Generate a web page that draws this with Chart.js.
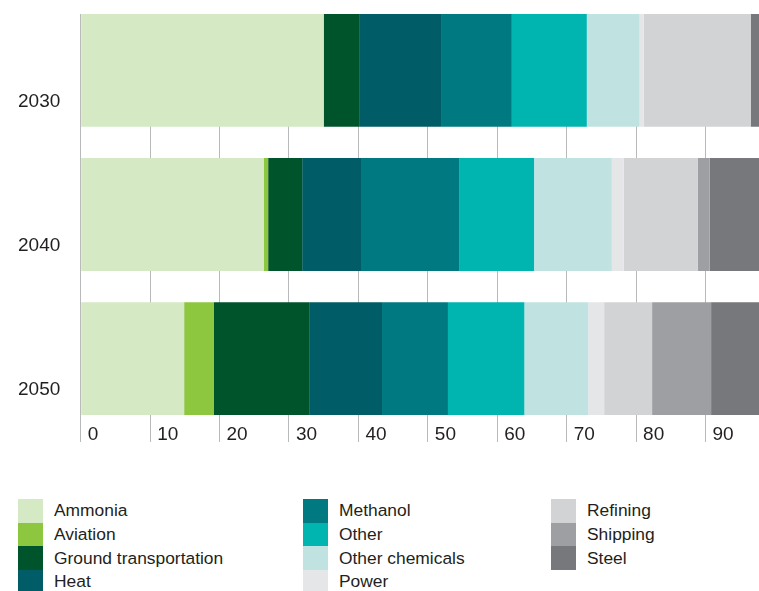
<!DOCTYPE html>
<html>
<head>
<meta charset="utf-8">
<script src="https://cdn.jsdelivr.net/npm/chart.js@4/dist/chart.umd.min.js"></script>
<style>
  body { margin: 0; background: #fff; }
  #wrap { position: relative; width: 759px; height: 591px; overflow: hidden; font-family: "Liberation Sans", Arial, sans-serif; color: #231f20; }
  #chart { position: absolute; left: 0; top: 0; }
  .col { position: absolute; top: 499px; }
  .item { display: flex; align-items: center; height: 23.7px; font-size: 17.4px; white-space: nowrap; }
  .sw { width: 25px; height: 100%; margin-right: 11px; flex: none; }
</style>
</head>
<body>
<div id="wrap">
  <canvas id="chart" width="759" height="460"></canvas>
  <div id="legend"></div>
</div>
<script>
const years = [2030, 2040, 2050];
const xTicks = [0, 10, 20, 30, 40, 50, 60, 70, 80, 90];

const ammonia         = [35.0, 26.4, 14.9];
const aviation        = [0.0, 0.6, 4.3];
const groundTransport = [5.1, 4.9, 13.8];
const heat            = [11.8, 8.6, 10.4];
const methanol        = [10.2, 14.0, 9.5];
const other           = [10.8, 10.8, 11.0];
const otherChemicals  = [7.6, 11.2, 9.2];
const power           = [0.6, 1.7, 2.3];
const refining        = [15.4, 10.7, 6.9];
const shipping        = [0.0, 1.7, 8.5];
const steel           = [1.2, 7.3, 7.2];

const fontFamily = '"Liberation Sans", Arial, sans-serif';
const textColor = '#231f20';

function series(label, data, color) {
    return {
        label: label,
        data: data,
        backgroundColor: color,
        borderWidth: 0,
        barPercentage: 0.784,
        categoryPercentage: 1,
    };
}

const chart = new Chart(document.getElementById('chart').getContext('2d'), {
    type: 'bar',
    data: {
        labels: years,
        datasets: [
            series('Ammonia', ammonia, '#d5eac4'),
            series('Aviation', aviation, '#8dc63f'),
            series('Ground transportation', groundTransport, '#00542b'),
            series('Heat', heat, '#005c66'),
            series('Methanol', methanol, '#007a80'),
            series('Other', other, '#00b5b0'),
            series('Other chemicals', otherChemicals, '#c0e3e1'),
            series('Power', power, '#e5e6e8'),
            series('Refining', refining, '#d1d3d4'),
            series('Shipping', shipping, '#9d9fa2'),
            series('Steel', steel, '#77787b'),
        ],
    },
    options: {
        indexAxis: 'y',
        responsive: false,
        animation: false,
        layout: {
            padding: { top: 14, left: 18, right: 0, bottom: 0 },
        },
        plugins: {
            legend: { display: false },
            tooltip: { enabled: false },
        },
        scales: {
            x: {
                type: 'linear',
                stacked: true,
                min: 0,
                max: 97.7,
                afterBuildTicks: (scale) => {
                    scale.ticks = xTicks.map((v) => ({ value: v }));
                },
                afterFit: (scale) => {
                    scale.height = 45;
                },
                border: { display: false },
                grid: {
                    color: '#b8b9bb',
                    lineWidth: 1,
                    tickLength: 27,
                },
                ticks: {
                    align: 'start',
                    labelOffset: 7,
                    padding: -18.5,
                    maxRotation: 0,
                    autoSkip: false,
                    color: textColor,
                    font: { family: fontFamily, size: 19 },
                },
            },
            y: {
                type: 'linear',
                stacked: true,
                reverse: true,
                offset: false,
                min: 2026.09,
                max: 2053.91,
                afterBuildTicks: (scale) => {
                    scale.ticks = years.map((v) => ({ value: v }));
                },
                afterFit: (scale) => {
                    scale.width = 62.7;
                },
                border: { display: false },
                grid: { display: false, drawTicks: false, offset: false },
                ticks: {
                    crossAlign: 'far',
                    labelOffset: 31,
                    padding: 0,
                    color: textColor,
                    font: { family: fontFamily, size: 19 },
                    callback: (v) => String(v),
                },
            },
        },
    },
});

// legend in three columns, filled top to bottom
const legendColumns = [[0, 1, 2, 3], [4, 5, 6, 7], [8, 9, 10]];
const legendX = [18, 303, 551];
const legend = document.getElementById('legend');

legendColumns.forEach((idxs, c) => {
    const col = document.createElement('div');
    col.className = 'col';
    col.style.left = legendX[c] + 'px';
    idxs.forEach((i) => {
        const ds = chart.data.datasets[i];
        const item = document.createElement('div');
        item.className = 'item';
        const sw = document.createElement('span');
        sw.className = 'sw';
        sw.style.background = ds.backgroundColor;
        const txt = document.createElement('span');
        txt.textContent = ds.label;
        item.appendChild(sw);
        item.appendChild(txt);
        col.appendChild(item);
    });
    legend.appendChild(col);
});
</script>
</body>
</html>
